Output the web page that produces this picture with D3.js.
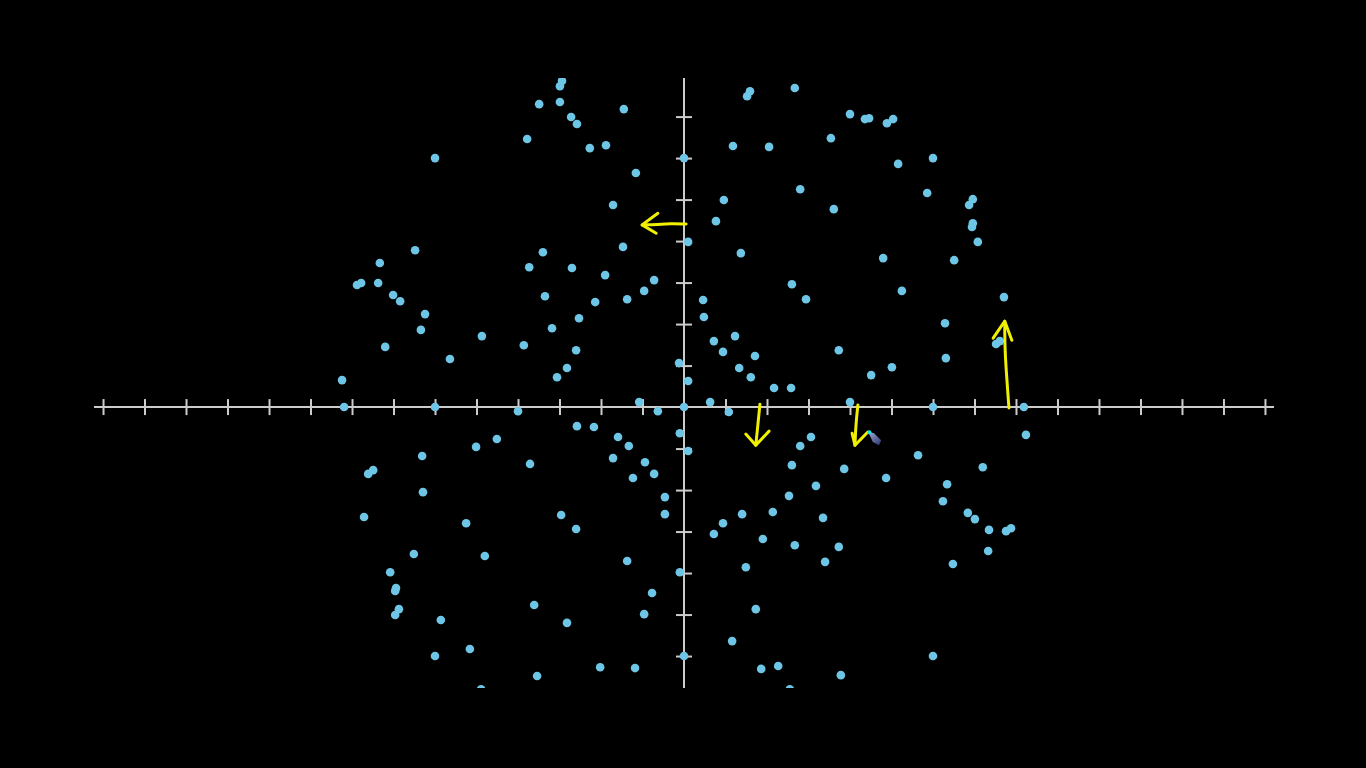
<!DOCTYPE html>
<html>
<head>
<meta charset="utf-8">
<script src="https://cdn.jsdelivr.net/npm/d3@7"></script>
<style>
  html, body { margin: 0; padding: 0; background: #000; overflow: hidden; }
  svg { display: block; }
</style>
</head>
<body>
<svg id="chart" width="1366" height="768"></svg>
<script>
// ---- data (in graph units) ----
const pointsX = [
  -2.94,-2.99,-3.49,-2.99,-2.72,-2.58,-3.78,-6.00,-6.48,-7.33,-3.40,-3.73,-7.78,-7.88,-7.37,-2.70,
  -1.45,-2.27,-1.88,0.00,-1.16,-1.71,-1.47,-1.90,-0.72,0.10,1.59,1.52,2.67,1.18,2.05,2.80,0.96,0.77,
  1.37,2.60,4.00,4.36,4.46,4.89,5.04,3.54,5.16,6.00,5.86,3.61,6.96,6.87,6.96,6.94,7.08,4.80,6.51,
  -7.01,-6.84,-6.24,-6.34,-7.20,-4.87,-5.64,-8.24,-8.19,-6.00,-4.00,-3.35,-3.18,-3.86,-2.82,-3.06,
  -0.96,-1.37,-2.14,-2.53,-2.60,-4.51,-5.01,-6.31,
  2.94,0.46,0.48,0.72,1.23,0.94,1.71,1.33,1.61,2.17,2.58,-0.12,0.10,-1.08,-0.63,0.00,0.63,1.08,
  -2.58,-2.17,-1.59,-1.33,-0.10,0.10,2.80,3.06,-1.71,5.25,7.71,6.29,3.73,6.31,5.01,4.51,7.52,7.61,
  4.00,6.00,8.19,8.24,5.64,
  -3.71,-7.49,-7.61,-6.29,-7.71,-5.25,-2.96,-6.51,-4.80,-7.08,-6.94,-6.96,-6.87,-6.96,-5.86,-3.61,
  -2.82,-0.94,-0.72,-1.23,-0.46,-0.46,-2.60,-1.37,-0.10,-0.77,-0.96,-5.16,-6.00,0.00,-3.54,-2.02,
  -1.18,-4.89,
  2.60,2.53,2.14,1.40,0.94,0.72,1.90,2.67,1.49,1.73,1.16,1.86,2.27,2.55,3.78,6.00,3.86,4.87,3.18,
  3.35,3.73,3.40,7.20,6.34,6.24,6.84,7.01,7.35,7.76,7.88,7.33,6.48
];
const pointsY = [
  7.86,7.73,7.30,7.35,6.99,6.82,6.46,6.00,3.78,3.47,3.73,3.37,2.99,2.94,2.99,3.35,
  7.18,6.24,6.31,6.00,5.64,4.87,3.86,3.18,3.06,3.98,7.61,7.49,7.69,6.29,6.27,5.25,4.99,4.48,
  3.71,2.96,7.06,6.94,6.96,6.84,6.94,6.48,5.86,6.00,5.16,4.77,5.01,4.87,4.43,4.34,3.98,3.59,3.54,
  2.70,2.55,2.24,1.86,1.45,1.71,1.16,0.65,0.00,0.00,-0.10,2.67,1.90,1.49,0.94,0.72,
  2.80,2.60,2.53,2.14,1.37,-0.77,-0.96,-1.18,
  2.60,2.58,2.17,1.59,1.71,1.33,1.23,0.94,0.72,0.46,0.46,1.06,0.63,0.12,-0.10,0.00,0.12,-0.12,
  -0.46,-0.48,-0.72,-0.94,-0.63,-1.06,-0.94,-0.72,-1.23,2.80,2.65,2.02,1.37,1.18,0.96,0.77,1.52,1.59,
  0.12,0.00,0.00,-0.67,-1.16,
  -1.37,-1.52,-1.61,-2.05,-2.65,-2.80,-2.60,-3.54,-3.59,-3.98,-4.36,-4.43,-4.87,-5.01,-5.13,-4.77,
  -5.20,-1.33,-1.61,-1.71,-2.17,-2.58,-2.94,-3.71,-3.98,-4.48,-4.99,-5.83,-6.00,-6.00,-6.48,-6.27,
  -6.29,-6.80,
  -1.40,-2.14,-2.53,-2.58,-2.80,-3.06,-3.18,-3.33,-3.86,-4.87,-5.64,-6.31,-6.24,-6.80,-6.46,-6.00,-1.49,-1.71,-1.90,
  -2.67,-3.37,-3.73,-1.45,-1.86,-2.27,-2.55,-2.70,-2.96,-2.99,-2.92,-3.47,-3.78
];
const xTicks = [-14,-13,-12,-11,-10,-9,-8,-7,-6,-5,-4,-3,-2,-1,1,2,3,4,5,6,7,8,9,10,11,12,13,14];
const yTicks = [-6,-5,-4,-3,-2,-1,1,2,3,4,5,6,7];

// hand-drawn yellow annotation arrows (graph units): shaft + head
const arrowShafts = [
  [[0.05,4.41],[-0.34,4.42],[-0.63,4.40],[-1.01,4.39]],
  [[1.83,0.07],[1.78,-0.43],[1.73,-0.92]],
  [[4.19,0.05],[4.14,-0.43],[4.12,-0.92]],
  [[7.83,-0.02],[7.80,0.40],[7.76,0.94],[7.73,1.49],[7.73,2.07]]
];
const arrowHeads = [
  [[-0.63,4.67],[-1.01,4.39],[-0.67,4.19]],
  [[1.49,-0.65],[1.73,-0.92],[2.05,-0.58]],
  [[4.05,-0.63],[4.12,-0.92],[4.43,-0.60]],
  [[7.45,1.66],[7.73,2.07],[7.90,1.61]]
];
const penTip = [[4.43,-0.58],[4.58,-0.63],[4.75,-0.80],[4.70,-0.92],[4.55,-0.84]];

// ---- layout ----
const svg = d3.select("#chart");
svg.append("rect").attr("width",1366).attr("height",768).attr("fill","#000");

const x = d3.scaleLinear().domain([-14.22, 14.22]).range([93.9, 1274.1]);
const y = d3.scaleLinear().domain([-6.77, 7.93]).range([688, 78]);

const defs = svg.append("defs");
defs.append("clipPath").attr("id","clip")
  .append("rect").attr("x",x(-14.22)).attr("y",y(7.93))
  .attr("width",x(14.22)-x(-14.22)).attr("height",y(-6.77)-y(7.93));
const grad = defs.append("linearGradient").attr("id","pen")
  .attr("gradientUnits","userSpaceOnUse")
  .attr("x1",x(penTip[0][0])).attr("y1",y(penTip[0][1]))
  .attr("x2",x(penTip[3][0])).attr("y2",y(penTip[3][1]));
grad.append("stop").attr("offset","0").attr("stop-color","#a8b4d8");
grad.append("stop").attr("offset","1").attr("stop-color","#2e3a78");

const g = svg.append("g").attr("clip-path","url(#clip)");
const axisColor = "#cccccc";

// axis lines
g.append("line").attr("x1",x(-14.22)).attr("x2",x(14.22)).attr("y1",y(0)).attr("y2",y(0))
  .attr("stroke",axisColor).attr("stroke-width",2);
g.append("line").attr("x1",x(0)).attr("x2",x(0)).attr("y1",y(7.93)).attr("y2",y(-6.77))
  .attr("stroke",axisColor).attr("stroke-width",2);

// ticks via d3 axes
const tick = 8;
const xAxis = g.append("g").attr("transform",`translate(0,${y(0)-tick})`)
  .call(d3.axisBottom(x).tickValues(xTicks).tickSize(tick*2).tickFormat(""));
const yAxis = g.append("g").attr("transform",`translate(${x(0)-tick},0)`)
  .call(d3.axisRight(y).tickValues(yTicks).tickSize(tick*2).tickFormat(""));
[xAxis,yAxis].forEach(a=>{
  a.select(".domain").remove();
  a.selectAll(".tick line").attr("stroke",axisColor).attr("stroke-width",2);
});

// points
const pts = pointsX.map((v,i)=>({x:v, y:pointsY[i]}));
g.selectAll("circle.pt").data(pts).enter().append("circle")
  .attr("class","pt")
  .attr("cx",d=>x(d.x)).attr("cy",d=>y(d.y)).attr("r",4.3)
  .attr("fill","#6ec6e6");

// annotations
const line = d3.line().x(d=>x(d[0])).y(d=>y(d[1])).curve(d3.curveBasis);
const lineStraight = d3.line().x(d=>x(d[0])).y(d=>y(d[1]));
arrowShafts.forEach(s=>{
  g.append("path").attr("d",line(s)).attr("fill","none")
    .attr("stroke","#f0f000").attr("stroke-width",3).attr("stroke-linecap","round");
});
arrowHeads.forEach(h=>{
  g.append("path").attr("d",lineStraight(h)).attr("fill","none")
    .attr("stroke","#f0f000").attr("stroke-width",3)
    .attr("stroke-linecap","round").attr("stroke-linejoin","round");
});
// pen cursor
g.append("path").attr("d",lineStraight(penTip)+"Z").attr("fill","url(#pen)");
g.append("circle").attr("cx",x(penTip[0][0])+1.5).attr("cy",y(penTip[0][1])+1).attr("r",2).attr("fill","#19e6e6");
</script>
</body>
</html>
